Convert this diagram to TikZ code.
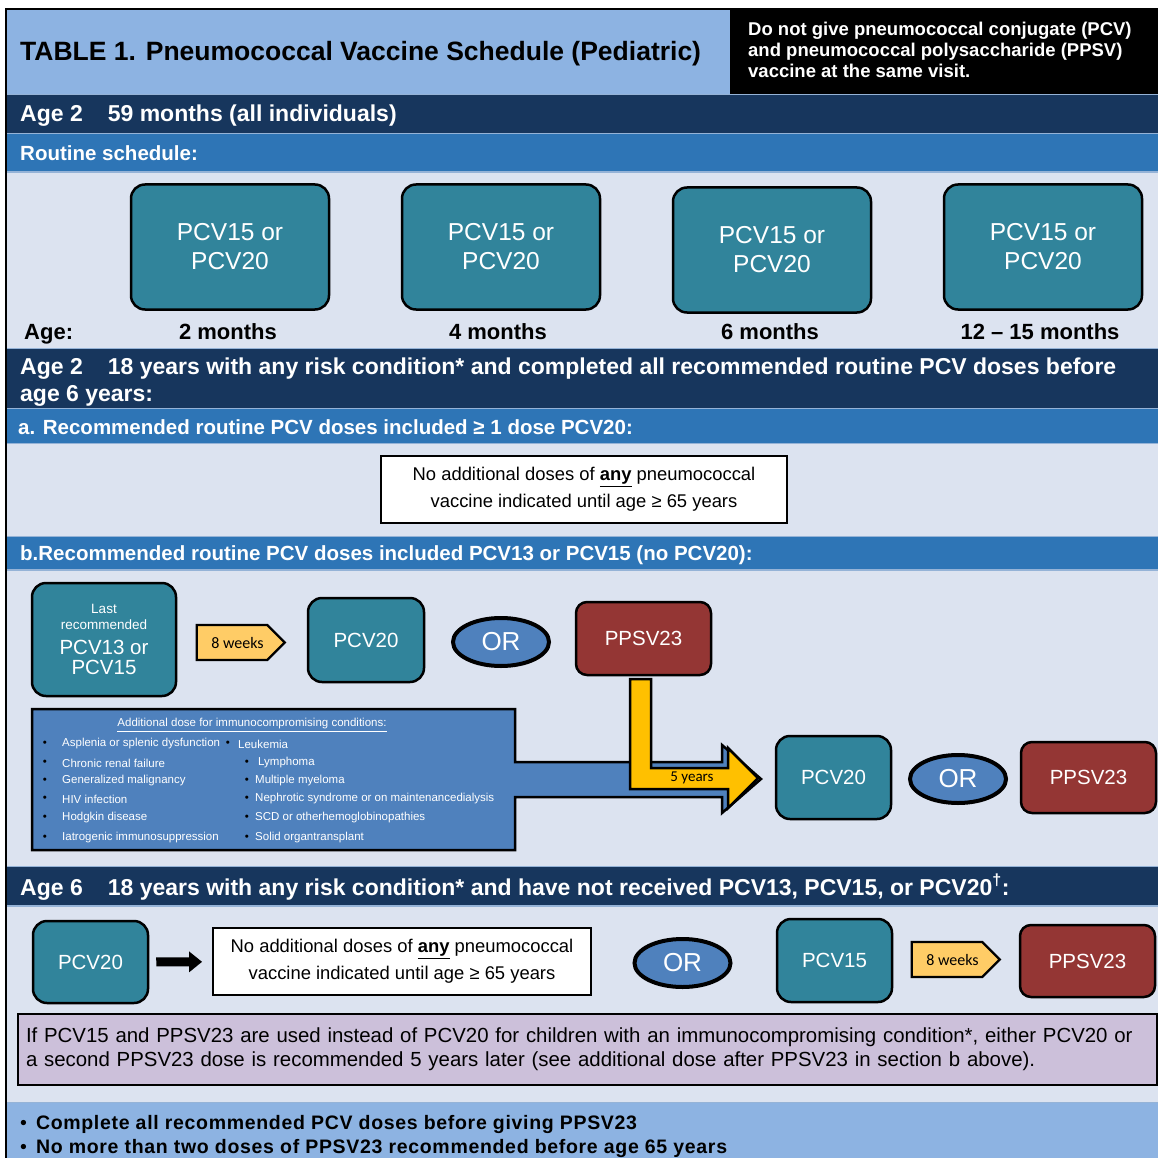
\documentclass[tikz,border=0pt]{standalone}
\usepackage{fontspec}
\setmainfont{Liberation Sans}
\newfontfamily\calfont{Carlito}
\usetikzlibrary{shapes.geometric,shapes.symbols,arrows.meta}
\definecolor{hdrblue}{HTML}{8DB3E2}
\definecolor{navy}{HTML}{17365D}
\definecolor{midblue}{HTML}{2E75B6}
\definecolor{palebg}{HTML}{DCE3F0}
\definecolor{teal1}{HTML}{31849B}
\definecolor{brick}{HTML}{943634}
\definecolor{orblue}{HTML}{4F81BD}
\definecolor{tagyellow}{HTML}{FFCC66}
\definecolor{arrowyellow}{HTML}{FFC000}
\definecolor{lavender}{HTML}{CCC0DA}
\definecolor{sepblue}{HTML}{95B3D7}
\begin{document}
\begin{tikzpicture}[x=1pt,y=-1pt,
  dose/.style={draw, line width=2.5pt, rounded corners=14pt, fill=teal1, text=white, align=center, inner sep=0pt, font=\fontsize{20.5}{24}\selectfont},
  ppsv/.style={dose, fill=brick, rounded corners=11pt},
  routine/.style={dose, minimum width=198, minimum height=125, font=\fontsize{24.5}{29}\selectfont},
  orbox/.style={ellipse, draw, line width=4pt, fill=orblue, text=white, inner sep=0pt, minimum width=96, minimum height=48, font=\fontsize{26}{30}\selectfont},
  tag/.style={signal, signal to=east, draw, line width=2.2pt, fill=tagyellow, inner sep=1pt, minimum width=88, minimum height=35, font=\calfont\fontsize{16}{18}\selectfont},
  note/.style={draw, line width=1.8pt, fill=white, align=center, inner sep=0pt, font=\fontsize{18.4}{27}\selectfont},
  band/.style={anchor=base west, inner sep=0pt, text=white, font=\bfseries\fontsize{23}{28}\selectfont},
  subband/.style={band, font=\bfseries\fontsize{20.5}{25}\selectfont},
  agelbl/.style={anchor=base, inner sep=0pt, font=\bfseries\fontsize{22}{26}\selectfont},
  listtxt/.style={anchor=west, inner sep=0pt, text=white, font=\fontsize{11.5}{14}\selectfont},
  listdot/.style={inner sep=0pt, font=\fontsize{11.5}{14}\selectfont},
  tipline/.style={anchor=base west, inner sep=0pt, font=\bfseries\fontsize{19.5}{24}\selectfont\addfontfeature{LetterSpace=3.5}},
  sepline/.style={sepblue, line width=1.5pt}]
\useasboundingbox (0,0) rectangle (1158,1158);
% bands
\fill[hdrblue] (7,9) rectangle (730,94);
\fill[black] (730,9) rectangle (1158,94);
\fill[navy] (7,94) rectangle (1158,133);
\fill[midblue] (7,133) rectangle (1158,172);
\fill[palebg] (7,172) rectangle (1158,348);
\fill[navy] (7,348) rectangle (1158,408);
\fill[midblue] (7,408) rectangle (1158,443);
\fill[palebg] (7,443) rectangle (1158,536);
\fill[midblue] (7,536) rectangle (1158,570);
\fill[palebg] (7,570) rectangle (1158,866);
\fill[navy] (7,866) rectangle (1158,906);
\fill[palebg] (7,906) rectangle (1158,1102);
\fill[hdrblue] (7,1102) rectangle (1158,1158);
\foreach \y in {94.5,133.5,172,348.5,408.5,443.5,536.5,570,866.5,906,1102.5}
  \draw[sepline] (7,\y) -- (1158,\y);
\draw[line width=2pt] (6,1158) -- (6,9) -- (1158,9);

% header
\node[anchor=base west, inner sep=0pt, font=\bfseries\fontsize{26.5}{30}\selectfont] (title) at (20,61) {TABLE 1. Pneumococcal Vaccine Schedule (Pediatric)};
\node[anchor=west, align=left, inner sep=0pt, text=white, font=\bfseries\fontsize{18.5}{21}\selectfont] (warn) at (748,50) {Do not give pneumococcal conjugate (PCV)\\and pneumococcal polysaccharide (PPSV)\\vaccine at the same visit.};
\node[band] (age2a) at (20,122) {Age 2\hspace{25pt}59 months (all individuals)};
\node[subband] (routine) at (20,161) {Routine schedule:};

% routine schedule
\node[routine] (r1) at (230,247) {PCV15 or\\PCV20};
\node[routine] (r2) at (501,247) {PCV15 or\\PCV20};
\node[routine] (r3) at (772,250) {PCV15 or\\PCV20};
\node[routine] (r4) at (1043,247) {PCV15 or\\PCV20};
\node[agelbl, anchor=base west] (agelabel) at (24,339) {Age:};
\node[agelbl] (m2) at (228,339) {2 months};
\node[agelbl] (m4) at (498,339) {4 months};
\node[agelbl] (m6) at (770,339) {6 months};
\node[agelbl] (m12) at (1040,339) {12 -- 15 months};

% completed routine doses
\node[band] (age2b) at (20,374) {Age 2\hspace{25pt}18 years with any risk condition* and completed all recommended routine PCV doses before};
\node[band] (age2c) at (20,401) {age 6 years:};
\node[subband] (grpa) at (18,434) {a. Recommended routine PCV doses included ≥ 1 dose PCV20:};
\node[note, minimum width=406, minimum height=67] (noadda) at (584,489.5) {No additional doses of \underline{\textbf{any}} pneumococcal\\vaccine indicated until age ≥ 65 years};
\node[subband] (grpb) at (20,560) {b.Recommended routine PCV doses included PCV13 or PCV15 (no PCV20):};

\node[dose, minimum width=144, minimum height=113] (last) at (104,639.5) {\fontsize{13.5}{16}\selectfont Last\\[-8pt]\fontsize{13.5}{16}\selectfont recommended\\[1pt]\fontsize{20.5}{20}\selectfont PCV13 or\\[-4pt]\fontsize{20.5}{20}\selectfont PCV15};
\node[tag] (wk1) at (232,642.5) {\hspace{11pt}8 weeks};
\node[dose, minimum width=116, minimum height=84] (pcv20a) at (366,640) {PCV20};
\node[orbox] (or1) at (501,642) {OR};
\node[ppsv, minimum width=135, minimum height=73] (ppsv1) at (643.5,638.5) {PPSV23};

% immunocompromising box with arrow
\draw[fill=orblue, line width=2.5pt, line join=miter] (32,709) -- (515,709) -- (515,762) -- (722,762) -- (722,745) -- (761,779) -- (722,813) -- (722,797) -- (515,797) -- (515,850) -- (32,850) -- cycle;
\draw[fill=arrowyellow, line width=2.5pt, line join=miter] (630,679) -- (651,679) -- (651,768) -- (728,768) -- (728,748) -- (758,778) -- (728,808) -- (728,789) -- (630,789) -- cycle;
\node[inner sep=0pt, font=\calfont\fontsize{15}{18}\selectfont] (yrs) at (692,778) {5 years};
\node[listtxt, anchor=center] (immtitle) at (252,725) {\underline{Additional dose for immunocompromising conditions:}};
\foreach \y/\t in {744/Asplenia or splenic dysfunction, 763/Chronic renal failure, 781/Generalized malignancy, 799/HIV infection, 818/Hodgkin disease, 838/Iatrogenic immunosuppression} {
  \node[listdot] (da\y) at (45,\y) {\textbullet};
  \node[listtxt] (ta\y) at (62,\y) {\t};
}
\foreach \bx/\tx/\y/\t in {228/238/744/Leukemia, 247/258/763/Lymphoma, 247/255/781/Multiple myeloma, 247/255/799/Nephrotic syndrome or on maintenancedialysis, 247/255/818/SCD or otherhemoglobinopathies, 247/255/838/Solid organtransplant} {
  \node[listdot] (db\y) at (\bx,\y) {\textbullet};
  \node[listtxt] (tb\y) at (\tx,\y) {\t};
}
\node[dose, minimum width=115, minimum height=83] (pcv20b) at (833.5,777.5) {PCV20};
\node[orbox] (or2) at (958,779) {OR};
\node[ppsv, minimum width=135, minimum height=71] (ppsv2) at (1088.5,777.5) {PPSV23};

% not yet received
\node[band] (age6) at (20,895) {Age 6\hspace{25pt}18 years with any risk condition* and have not received PCV13, PCV15, or PCV20\textsuperscript{†}:};
\node[dose, minimum width=115, minimum height=82] (pcv20c) at (90.5,962) {PCV20};
\node[note, minimum width=378, minimum height=67] (noaddb) at (402,961.5) {No additional doses of \underline{\textbf{any}} pneumococcal\\vaccine indicated until age ≥ 65 years};
\draw[line width=9pt, -{Triangle[length=13pt,width=20pt]}, shorten <=7pt, shorten >=10pt] (pcv20c) -- (noaddb);
\node[orbox] (or3) at (682.5,963) {OR};
\node[dose, minimum width=115, minimum height=83] (pcv15) at (834.5,960.5) {PCV15};
\node[tag] (wk2) at (947,959.5) {\hspace{11pt}8 weeks};
\node[ppsv, minimum width=135, minimum height=72] (ppsv3) at (1087.5,961) {PPSV23};
\node[draw, line width=2pt, fill=lavender, minimum width=1139, minimum height=71, inner xsep=8pt, inner ysep=0pt, text width=1123pt, align=left, font=\fontsize{20.4}{24}\selectfont] (lav) at (587.5,1049.5) {If PCV15 and PPSV23 are used instead of PCV20 for children with an immunocompromising condition*, either PCV20 or\\a second PPSV23 dose is recommended 5 years later (see additional dose after PPSV23 in section b above).};

% footer notes
\node[tipline] (tip1) at (20,1129) {{\mdseries\textbullet}\hspace{9pt}Complete all recommended PCV doses before giving PPSV23};
\node[tipline] (tip2) at (20,1153) {{\mdseries\textbullet}\hspace{9pt}No more than two doses of PPSV23 recommended before age 65 years};
\end{tikzpicture}
\end{document}
